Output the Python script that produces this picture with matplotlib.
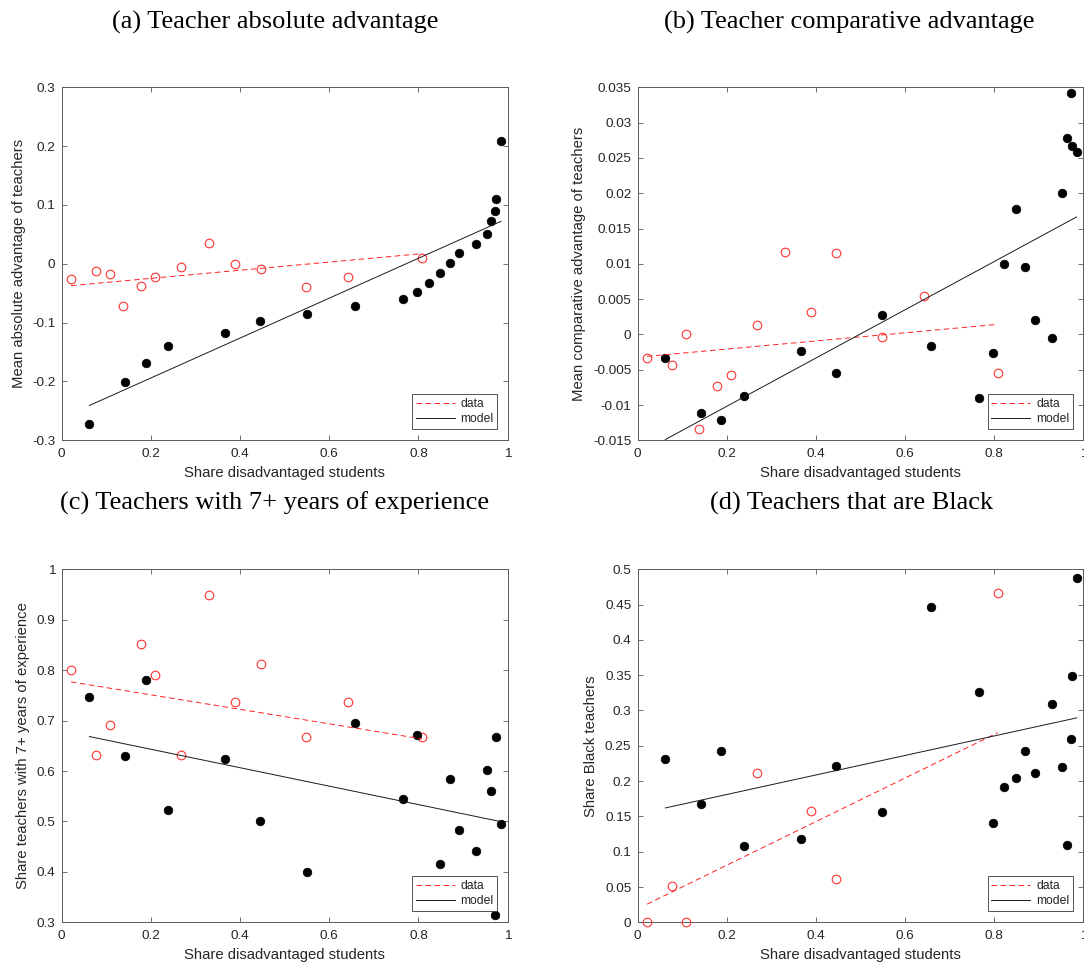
import numpy as np
import matplotlib
matplotlib.use("Agg")
import matplotlib.pyplot as plt
from matplotlib.ticker import FormatStrFormatter, FuncFormatter

plt.rcParams['font.family'] = ['Liberation Sans', 'DejaVu Sans']
plt.rcParams['axes.unicode_minus'] = False
plt.rcParams['lines.scale_dashes'] = False

nan = np.nan

# Share disadvantaged students (x) for model and data groups
x_model = [0.062, 0.141, 0.188, 0.238, 0.367, 0.445, 0.549, 0.658, 0.765, 0.797,
           0.823, 0.849, 0.870, 0.891, 0.930, 0.953, 0.963, 0.972, 0.974, 0.985]
x_data = [0.021, 0.078, 0.109, 0.138, 0.177, 0.210, 0.268, 0.330, 0.389, 0.446,
          0.548, 0.642, 0.808]

# (a) absolute advantage
a_model = [-0.272, -0.201, -0.169, -0.139, -0.118, -0.098, -0.085, -0.072, -0.059, -0.048,
           -0.033, -0.016, 0.002, 0.018, 0.033, 0.051, 0.073, 0.089, 0.110, 0.209]
a_data = [-0.026, -0.012, -0.017, -0.071, -0.038, -0.023, -0.006, 0.035, -0.001, -0.008,
          -0.040, -0.022, 0.010]
# (b) comparative advantage
b_model = [-0.0034, -0.0111, -0.0121, -0.0087, -0.0023, -0.0054, 0.0027, -0.0016, -0.0090, -0.0027,
           0.0100, 0.0178, 0.0096, 0.0020, -0.0005, 0.0200, 0.0278, 0.0342, 0.0267, 0.0259]
b_data = [-0.0033, -0.0044, 0.0000, -0.0134, -0.0073, -0.0057, 0.0014, 0.0117, 0.0032, 0.0115,
          -0.0004, 0.0054, -0.0055]
# (c) share with 7+ years experience
c_model = [0.747, 0.629, 0.780, 0.523, 0.624, 0.500, 0.399, 0.696, 0.544, 0.672,
           nan, 0.416, 0.585, 0.483, 0.441, 0.603, 0.560, 0.314, 0.667, 0.494]
c_data = [0.800, 0.632, 0.692, nan, 0.851, 0.790, 0.632, 0.950, 0.736, 0.812,
          0.667, 0.736, 0.667]
# (d) share Black teachers
d_model = [0.232, 0.168, 0.242, 0.108, 0.118, 0.221, 0.156, 0.447, 0.326, 0.141,
           0.191, 0.204, 0.242, 0.211, 0.309, 0.220, 0.110, 0.259, 0.349, 0.487]
d_data = [0.000, 0.052, 0.000, nan, nan, nan, 0.211, nan, 0.157, 0.062,
          nan, nan, 0.467]

# Fitted lines (intercept, slope)
a_fit_data, a_fit_model = (-0.0386, 0.0692), (-0.2619, 0.3392)
b_fit_data, b_fit_model = (-0.00323, 0.00576), (-0.01701, 0.03416)
c_fit_data, c_fit_model = (0.7798, -0.1438), (0.6797, -0.1829)
d_fit_data, d_fit_model = (0.0192, 0.3086), (0.1534, 0.1382)

titles = ["(a) Teacher absolute advantage", "(b) Teacher comparative advantage",
          "(c) Teachers with 7+ years of experience", "(d) Teachers that are Black"]
ylabels = ["Mean absolute advantage of teachers", "Mean comparative advantage of teachers",
           "Share teachers with 7+ years of experience", "Share Black teachers"]
xlabel = "Share disadvantaged students"
ylims = [(-0.3, 0.3), (-0.015, 0.035), (0.3, 1.0), (0.0, 0.5)]
ysteps = [0.1, 0.005, 0.1, 0.05]

W, H = 1084, 966
fig = plt.figure(figsize=(W / 100, H / 100), dpi=100)

# axes boxes in pixels: left, right, top, bottom
boxes = [(61.7, 507.7, 87.3, 440.3), (637.7, 1083.3, 87.3, 440.3),
         (61.7, 507.7, 569.3, 922.3), (637.7, 1083.3, 569.3, 922.3)]
ylabel_x = [-0.0957, -0.1317, -0.0874, -0.1055]
title_pos = [(275, 22), (849, 22), (275, 503), (852, 503)]

panels = [(a_model, a_data, a_fit_data, a_fit_model),
          (b_model, b_data, b_fit_data, b_fit_model),
          (c_model, c_data, c_fit_data, c_fit_model),
          (d_model, d_data, d_fit_data, d_fit_model)]

txtc = '#262626'
spc = '#5a5a5a'

def gfmt(v, pos):
    s = "%g" % round(v, 6)
    if s == "-0":
        s = "0"
    return s

for i, (mod, dat, fd, fm) in enumerate(panels):
    l, r, t, b = boxes[i]
    ax = fig.add_axes([l / W, 1 - b / H, (r - l) / W, (b - t) / H])
    xm = np.array(x_model); xd = np.array(x_data)
    ym = np.array(mod, dtype=float); yd = np.array(dat, dtype=float)
    ax.plot(xd, yd, linestyle='none', marker='o', ms=6.2, mfc='none', mec='#ff3333',
            mew=0.8, clip_on=False, zorder=3)
    ax.plot(xm, ym, linestyle='none', marker='o', ms=6.2, mfc='black', mec='black',
            mew=0.5, clip_on=False, zorder=3)
    xx_d = np.array([np.nanmin(xd), np.nanmax(xd)])
    xx_m = np.array([np.nanmin(xm), np.nanmax(xm)])
    h1, = ax.plot(xx_d, fd[0] + fd[1] * xx_d, color='#ff2020', lw=0.7,
                  linestyle=(0, (4.0, 2.5)), zorder=4, label='data')
    h2, = ax.plot(xx_m, fm[0] + fm[1] * xx_m, color='#1a1a1a', lw=0.7, zorder=4, label='model')
    ax.set_xlim(0, 1)
    ax.set_ylim(*ylims[i])
    ax.set_xticks(np.linspace(0, 1, 6))
    lo, hi = ylims[i]
    n = int(round((hi - lo) / ysteps[i]))
    ax.set_yticks(np.linspace(lo, hi, n + 1))
    ax.xaxis.set_major_formatter(FuncFormatter(gfmt))
    ax.yaxis.set_major_formatter(FuncFormatter(gfmt))
    ax.tick_params(direction='in', length=3.6, width=0.6, colors=spc, labelcolor=txtc,
                   labelsize=9.7, top=True, right=True)
    ax.tick_params(axis='x', pad=5.5)
    ax.tick_params(axis='y', pad=4.5)
    for sp in ax.spines.values():
        sp.set_color(spc)
        sp.set_linewidth(0.7)
    ax.set_xlabel(xlabel, fontsize=10.7, color=txtc, va='center')
    ax.xaxis.set_label_coords(0.5, -0.094)
    ax.set_ylabel(ylabels[i], fontsize=10.7, color=txtc, va='center')
    ax.yaxis.set_label_coords(ylabel_x[i], 0.5)
    leg = ax.legend(handles=[h1, h2], loc='lower right', bbox_to_anchor=(0.9767, 0.033),
                    fontsize=8.7, frameon=True, fancybox=False, handlelength=3.2,
                    handletextpad=0.5, borderpad=0.3, labelspacing=0.25, borderaxespad=0)
    fr = leg.get_frame()
    fr.set_edgecolor('#262626')
    fr.set_linewidth(0.7)
    for tx in leg.get_texts():
        tx.set_color(txtc)
    tx_, ty_ = title_pos[i]
    fig.text(tx_ / W, 1 - ty_ / H, titles[i], ha='center', va='center',
             family=['Liberation Serif', 'DejaVu Serif'], fontsize=19, color='black')

fig.savefig("out.png", dpi=100)
